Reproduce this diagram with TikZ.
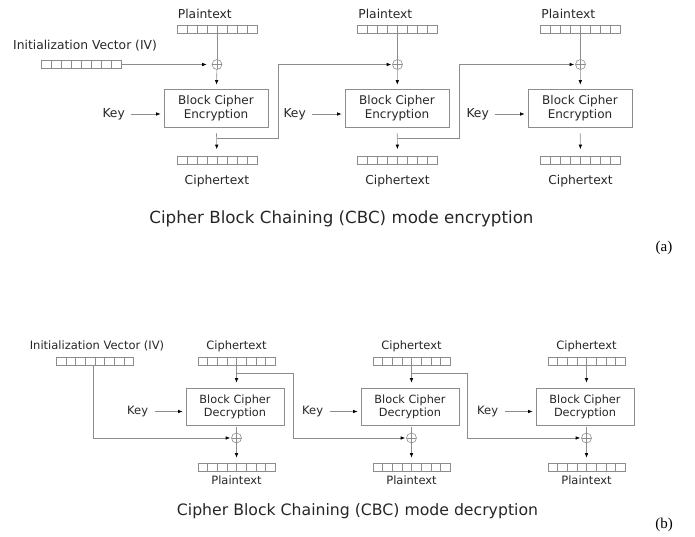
\documentclass[tikz,border=0pt]{standalone}
\usepackage{fontspec}
\setmainfont{DejaVu Sans}
\newfontfamily\capfont{Liberation Serif}
\usetikzlibrary{arrows.meta,calc}

\tikzset{
  wire/.style={draw=black!45, line width=0.6pt},
  flow/.style={wire, -{Latex[length=4.5pt,width=3.5pt,color=black]}},
  reg/.style={draw=black!45, line width=0.6pt, minimum width=80pt, minimum height=8pt, inner sep=0pt},
  dreg/.style={reg, minimum width=77pt},
  cipherbox/.style={draw=black!45, line width=0.7pt, minimum width=104pt, minimum height=38pt,
    align=center, inner sep=0pt, font=\fontsize{12}{14}\selectfont, text=black!85},
  dcipherbox/.style={cipherbox, minimum width=98pt, minimum height=37pt, font=\fontsize{11.3}{13}\selectfont},
  lbl/.style={inner sep=0pt, font=\fontsize{12.3}{14}\selectfont, text=black!85},
  dlbl/.style={lbl, font=\fontsize{11.5}{13}\selectfont},
  xorop/.style={circle, draw=black!45, line width=0.6pt, minimum size=10pt, inner sep=0pt,
    path picture={\draw[black!45, line width=0.6pt]
      (path picture bounding box.north) -- (path picture bounding box.south)
      (path picture bounding box.west) -- (path picture bounding box.east);}},
  caption/.style={inner sep=0pt, text=black!85},
}
% eight cells of a register node
\newcommand{\regcells}[1]{%
  \foreach \k in {1,...,7}
    \draw[black!45, line width=0.5pt] ($(#1.south west)!\k/8!(#1.south east)$) -- ($(#1.north west)!\k/8!(#1.north east)$);}

\begin{document}
\begin{tikzpicture}[x=1pt, y=-1pt]
\useasboundingbox (0,0) rectangle (695,537);

% ---------------- CBC encryption ----------------
\node[reg] (iv) at (81,64.5) {};
\regcells{iv}
\node[lbl] (ivlbl) at (85,46) {Initialization Vector (IV)};

\foreach \n/\X/\bx in {1/217/216, 2/397.5/397, 3/580.5/580} {
  \node[reg] (p\n) at (\X,29.5) {};
  \regcells{p\n}
  \node[lbl, anchor=base west] (pl\n) at ($(p\n.north west)+(1,-7)$) {Plaintext};
  \node[xorop] (x\n) at (\X,64.5) {};
  \node[cipherbox] (e\n) at (\bx,108) {Block Cipher\\Encryption};
  \node[reg] (c\n) at (\X,160.5) {};
  \regcells{c\n}
  \node[lbl] (cl\n) at (\X,181) {Ciphertext};
  \node[lbl] (k\n) at ($(e\n.west)+(-50,6)$) {Key};
  \draw[flow, shorten >=3pt] ($(e\n.west)+(-33,6)$) coordinate (ks\n) -- ($(e\n.west)+(0,6)$);
  \draw[wire] (p\n) -- (x\n);
  \draw[flow, shorten >=4pt] (x\n) -- (e\n);
  \draw[flow, shorten <=6pt, shorten >=7pt] (e\n) -- (c\n);
}
\draw[flow, shorten >=5pt] (iv.east) -- (x1.west);

% chaining: ciphertext block feeds the next XOR
\coordinate (j1) at (217,138);
\coordinate (j2) at (397.5,138);
\draw[flow, shorten >=1pt] (j1) -- (278,138) |- (x2);
\draw[flow, shorten >=1pt] (j2) -- (459,138) |- (x3);

\node[caption, font=\fontsize{16.7}{19}\selectfont] (tenc) at (341.5,219) {Cipher Block Chaining (CBC) mode encryption};
\node[caption, text=black, font=\capfont\fontsize{15}{17}\selectfont] (ta) at (664,248) {(a)};

% ---------------- CBC decryption ----------------
\node[dreg] (div) at (95,361) {};
\regcells{div}
\node[dlbl] (divlbl) at (97,346) {Initialization Vector (IV)};

\foreach \n/\X in {1/236.5, 2/411.5, 3/586.5} {
  \node[dreg] (dc\n) at (\X,361) {};
  \regcells{dc\n}
  \node[dlbl] (dcl\n) at (\X,346) {Ciphertext};
  \node[dcipherbox] (d\n) at (\X-1.5,406.5) {Block Cipher\\Decryption};
  \node[xorop] (dx\n) at (\X,438) {};
  \node[dreg] (dp\n) at (\X,467) {};
  \regcells{dp\n}
  \node[dlbl] (dpl\n) at (\X,480) {Plaintext};
  \node[dlbl] (dk\n) at ($(d\n.west)+(-48,5)$) {Key};
  \draw[flow, shorten >=3pt] ($(d\n.west)+(-31,5)$) coordinate (dks\n) -- ($(d\n.west)+(0,5)$);
  \draw[flow, shorten >=5pt] (dc\n.south) -- (d\n.north -| dc\n.south);
  \draw[wire, shorten <=2pt] (d\n.south -| dx\n.north) -- (dx\n.north);
  \draw[flow, shorten >=5pt] (dx\n) -- (dp\n);
}

% IV and previous ciphertext blocks go into the XOR after decryption
\draw[flow, shorten >=1pt] (93,365) coordinate (dj0) -- (93,438) -- (dx1);
\coordinate (dj1) at (236.5,373);
\coordinate (dj2) at (411.5,373);
\draw[flow, shorten >=1pt] (dj1) -- (293,373) |- (dx2);
\draw[flow, shorten >=1pt] (dj2) -- (467,373) |- (dx3);

\node[caption, font=\fontsize{15.7}{18}\selectfont] (tdec) at (357.5,511) {Cipher Block Chaining (CBC) mode decryption};
\node[caption, text=black, font=\capfont\fontsize{15}{17}\selectfont] (tb) at (664,525) {(b)};
\end{tikzpicture}
\end{document}
